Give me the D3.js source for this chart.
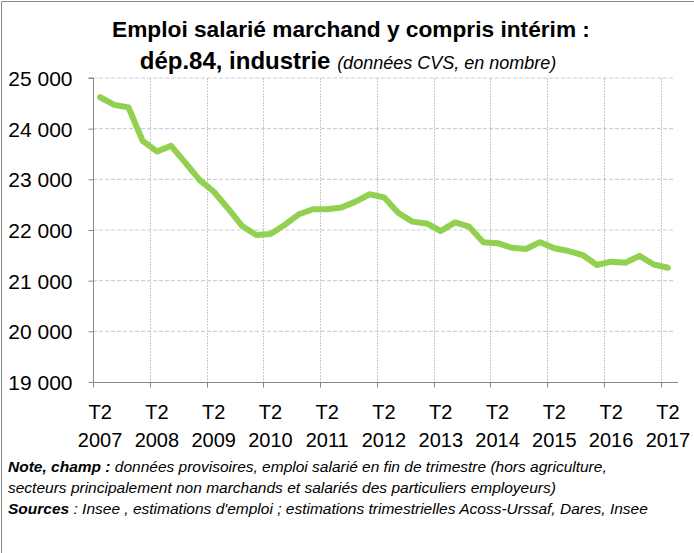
<!DOCTYPE html>
<html>
<head>
<meta charset="utf-8">
<script src="https://cdn.jsdelivr.net/npm/d3@7"></script>
<style>
  body { margin: 0; background: #fff; }
  svg { display: block; font-family: "Liberation Sans", Arial, sans-serif; }
</style>
</head>
<body>
<div id="chart"></div>
<script>
const width = 694;
const height = 553;
const margin = { left: 93, right: 19, top: 78, bottom: 171 };

// quarters T2 2007 -> T2 2017
const periods = [
  "T2 2007", "T3 2007", "T4 2007", "T1 2008", "T2 2008", "T3 2008", "T4 2008", "T1 2009",
  "T2 2009", "T3 2009", "T4 2009", "T1 2010", "T2 2010", "T3 2010", "T4 2010", "T1 2011",
  "T2 2011", "T3 2011", "T4 2011", "T1 2012", "T2 2012", "T3 2012", "T4 2012", "T1 2013",
  "T2 2013", "T3 2013", "T4 2013", "T1 2014", "T2 2014", "T3 2014", "T4 2014", "T1 2015",
  "T2 2015", "T3 2015", "T4 2015", "T1 2016", "T2 2016", "T3 2016", "T4 2016", "T1 2017",
  "T2 2017",
];

const values = [
  24620, 24470, 24420, 23760, 23550, 23660, 23330, 22990, 22760, 22430,
  22080, 21900, 21920, 22100, 22310, 22410, 22410, 22445, 22560, 22705,
  22645, 22340, 22165, 22130, 21980, 22150, 22065, 21760, 21740, 21650,
  21625, 21760, 21640, 21585, 21505, 21310, 21375, 21355, 21490, 21320,
  21255,
];

const yTicks = [19000, 20000, 21000, 22000, 23000, 24000, 25000];

const data = periods.map((p, i) => ({ period: p, value: values[i] }));

const svg = d3
  .select("#chart")
  .append("svg")
  .attr("width", width)
  .attr("height", height);

// chart frame (cropped on right and bottom)
svg
  .append("path")
  .attr("d", `M1.5,${height + 5} V1.5 H${width + 5}`)
  .attr("fill", "none")
  .attr("stroke", "#888")
  .attr("stroke-width", 1);

const xScale = d3
  .scaleBand()
  .domain(periods)
  .range([margin.left, width - margin.right])
  .padding(0);

const yScale = d3
  .scaleLinear()
  .domain([19000, 25000])
  .range([height - margin.bottom, margin.top]);

const fmt = (d) => d3.format(",")(d).replace(",", " ");

// horizontal gridlines
svg
  .append("g")
  .selectAll("line")
  .data(yTicks.filter((d) => d > 19000))
  .join("line")
  .attr("x1", margin.left)
  .attr("x2", width - margin.right)
  .attr("y1", (d) => yScale(d))
  .attr("y2", (d) => yScale(d))
  .attr("stroke", "#d0d0d0")
  .attr("stroke-width", 1.2)
  .attr("stroke-dasharray", "4,2");

// vertical gridlines at every 4th category boundary
const boundaries = periods.filter((d, i) => i % 4 === 0 && i > 0);
svg
  .append("g")
  .selectAll("line")
  .data(boundaries)
  .join("line")
  .attr("x1", (d) => Math.round(xScale(d)) + 0.5)
  .attr("x2", (d) => Math.round(xScale(d)) + 0.5)
  .attr("y1", margin.top)
  .attr("y2", height - margin.bottom)
  .attr("stroke", "#c8c8c8")
  .attr("stroke-width", 1)
  .attr("stroke-dasharray", "2,1");

// y axis
const yAxis = d3.axisLeft(yScale).tickValues(yTicks).tickSize(5).tickFormat(fmt);
svg
  .append("g")
  .attr("transform", `translate(${margin.left + 0.5}, 0)`)
  .call(yAxis)
  .call((g) => g.select(".domain").attr("stroke", "#888").attr("d", `M-5,${yScale(25000)}H0V${yScale(19000)}`))
  .call((g) => g.selectAll(".tick line").attr("stroke", "#888"))
  .call((g) =>
    g
      .selectAll(".tick text")
      .attr("x", -21)
      .attr("dy", "0.36em")
      .attr("fill", "#000")
      .attr("font-size", 21)
      .attr("font-family", "Liberation Sans, Arial, sans-serif")
  );

// x axis line and tick marks
const xg = svg
  .append("g")
  .attr("transform", `translate(0, ${height - margin.bottom + 0.5})`);
xg.append("line")
  .attr("x1", margin.left)
  .attr("x2", width - margin.right + 3)
  .attr("stroke", "#888");
xg.selectAll(".xtick")
  .data(periods.filter((d, i) => i % 4 === 0))
  .join("line")
  .attr("class", "xtick")
  .attr("x1", (d) => Math.round(xScale(d)) + 0.5)
  .attr("x2", (d) => Math.round(xScale(d)) + 0.5)
  .attr("y1", 0)
  .attr("y2", 5)
  .attr("stroke", "#888");

const labelled = periods.filter((d, i) => i % 4 === 0);
const xLabels = xg
  .selectAll(".xlabel")
  .data(labelled)
  .join("text")
  .attr("class", "xlabel")
  .attr("text-anchor", "middle")
  .attr("font-size", 20)
  .attr("fill", "#000");
xLabels
  .append("tspan")
  .attr("x", (d) => xScale(d) + xScale.bandwidth() / 2)
  .attr("y", 36)
  .text((d) => d.split(" ")[0]);
xLabels
  .append("tspan")
  .attr("x", (d) => xScale(d) + xScale.bandwidth() / 2)
  .attr("y", 64)
  .text((d) => d.split(" ")[1]);

// the line
const line = d3
  .line()
  .x((d) => xScale(d.period) + xScale.bandwidth() / 2)
  .y((d) => yScale(d.value));

svg
  .append("path")
  .datum(data)
  .attr("fill", "none")
  .attr("stroke", "#92d050")
  .attr("stroke-width", 6)
  .attr("stroke-linejoin", "round")
  .attr("stroke-linecap", "round")
  .attr("d", line);

// title
svg
  .append("text")
  .attr("x", 351)
  .attr("y", 37)
  .attr("text-anchor", "middle")
  .attr("font-size", 22.7)
  .attr("font-weight", "bold")
  .text("Emploi salarié marchand y compris intérim :");

const t2 = svg
  .append("text")
  .attr("x", 348)
  .attr("y", 69)
  .attr("text-anchor", "middle");
t2.append("tspan").attr("font-size", 24).attr("font-weight", "bold").text("dép.84, industrie ");
t2.append("tspan").attr("font-size", 18).attr("font-style", "italic").text("(données CVS, en nombre)");

// notes
const notes = svg.append("g").attr("font-size", 15.5).attr("font-style", "italic");
const n1 = notes.append("text").attr("x", 8).attr("y", 472);
n1.append("tspan").attr("font-weight", "bold").text("Note, champ :");
n1.append("tspan").text(" données provisoires, emploi salarié en fin de trimestre (hors agriculture,");
notes
  .append("text")
  .attr("x", 8)
  .attr("y", 493)
  .text("secteurs principalement non marchands et salariés des particuliers employeurs)");
const n3 = notes.append("text").attr("x", 8).attr("y", 514);
n3.append("tspan").attr("font-weight", "bold").text("Sources");
n3.append("tspan").text(" : Insee , estimations d'emploi ; estimations trimestrielles Acoss-Urssaf, Dares, Insee");
</script>
</body>
</html>
